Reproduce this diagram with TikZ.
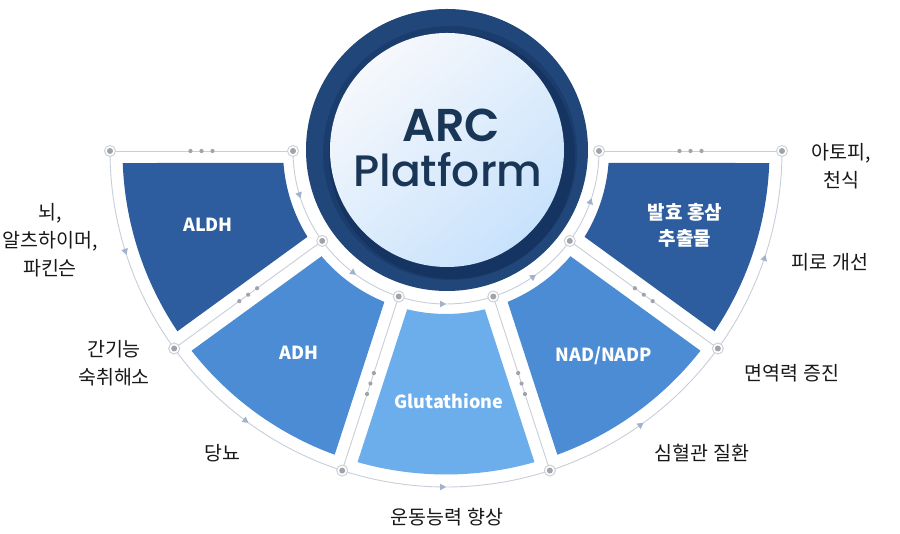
\documentclass[tikz,border=0pt]{standalone}
\usepackage{fontspec}
\setmainfont{Noto Sans CJK KR}
\newfontfamily\pop{Poppins}[UprightFont=* Medium,BoldFont=* SemiBold]
\usetikzlibrary{arrows.meta,decorations.markings,calc}
\definecolor{segdark}{RGB}{45,93,158}
\definecolor{segmid}{RGB}{76,140,212}
\definecolor{seglight}{RGB}{108,174,236}
\definecolor{ringc}{RGB}{33,70,122}
\definecolor{ringdark}{RGB}{18,46,88}
\definecolor{linec}{RGB}{200,207,218}
\definecolor{arrowc}{RGB}{160,178,204}
\definecolor{dotc}{RGB}{160,164,170}
\definecolor{jringc}{RGB}{205,209,215}
\definecolor{titlec}{RGB}{26,54,86}
\definecolor{txtc}{RGB}{24,24,24}
\definecolor{circtop}{RGB}{246,248,252}
\definecolor{circbot}{RGB}{200,226,252}
\begin{document}
\begin{tikzpicture}[x=1pt,y=1pt,
  guide/.style={draw=linec, line width=0.9pt},
  flowarc/.style={guide, postaction={decorate},
    decoration={markings, mark=at position 0.5 with {\arrow[arrowc]{Triangle[length=6pt,width=6.5pt]}}}},
  dotline/.style={guide, postaction={decorate},
    decoration={markings,
      mark=at position 80.5pt with {\fill[dotc] (0,0) circle (2.1);},
      mark=at position 91.5pt with {\fill[dotc] (0,0) circle (2.1);},
      mark=at position 102.5pt with {\fill[dotc] (0,0) circle (2.1);}}},
  jn/.style={circle, fill=white, draw=jringc, line width=1pt, minimum size=11pt, inner sep=0pt,
    path picture={\fill[dotc] (path picture bounding box.center) circle (3);}},
  outtxt/.style={align=center, text=txtc, font=\fontsize{19.5}{28}\selectfont, inner sep=0pt},
  seglab/.style={align=center, text=white, font=\bfseries\fontsize{18}{26}\selectfont, inner sep=0pt},
  seglabkr/.style={seglab, font=\bfseries\fontsize{19}{26}\selectfont}
]
\useasboundingbox (0,0) rectangle (900,534);
\fill[white] (0,0) rectangle (900,534);

\begin{scope}[shift={(446,383)}]
  % segments
  \fill[segdark] (184.22:163) -- (182.13:323.5) arc[start angle=182.13,end angle=213.87,radius=323.5]
     -- (211.78:163) arc[start angle=211.78,end angle=184.22,radius=163] -- cycle;
  \fill[segmid] (220.22:163) -- (218.13:323.5) arc[start angle=218.13,end angle=249.87,radius=323.5]
     -- (247.78:163) arc[start angle=247.78,end angle=220.22,radius=163] -- cycle;
  \fill[seglight] (256.22:163) -- (254.13:323.5) arc[start angle=254.13,end angle=285.87,radius=323.5]
     -- (283.78:163) arc[start angle=283.78,end angle=256.22,radius=163] -- cycle;
  \fill[segmid] (292.22:163) -- (290.13:323.5) arc[start angle=290.13,end angle=321.87,radius=323.5]
     -- (319.78:163) arc[start angle=319.78,end angle=292.22,radius=163] -- cycle;
  \fill[segdark] (328.22:163) -- (326.13:323.5) arc[start angle=326.13,end angle=357.87,radius=323.5]
     -- (355.78:163) arc[start angle=355.78,end angle=328.22,radius=163] -- cycle;

  % junction coordinates
  \foreach \a [count=\k] in {180,216,252,288,324,360} {
    \coordinate (i\k) at (\a:153);
    \coordinate (o\k) at (\a:336);
  }
\end{scope}

% radial guide lines with dots
\foreach \k in {1,...,6} { \draw[dotline] (i\k) -- (o\k); }

% arcs with flow arrows
\draw[flowarc] (o1) arc[start angle=180,end angle=216,radius=336];
\draw[flowarc] (o2) arc[start angle=216,end angle=252,radius=336];
\draw[flowarc] (o3) arc[start angle=252,end angle=288,radius=336];
\draw[flowarc] (o4) arc[start angle=288,end angle=324,radius=336];
\draw[flowarc] (o5) arc[start angle=324,end angle=360,radius=336];
\draw[flowarc] (i1) arc[start angle=180,end angle=216,radius=153];
\draw[flowarc] (i2) arc[start angle=216,end angle=252,radius=153];
\draw[flowarc] (i3) arc[start angle=252,end angle=288,radius=153];
\draw[flowarc] (i4) arc[start angle=288,end angle=324,radius=153];
\draw[flowarc] (i5) arc[start angle=324,end angle=360,radius=153];

% junction markers
\foreach \k in {1,...,6} {
  \node[jn] (ji\k) at (i\k) {};
  \node[jn] (jo\k) at (o\k) {};
}

% central circle
\fill[ringc] (447,384) circle (141);
\fill[ringdark, opacity=0.55] (452,378) circle (123);
\fill[ringdark, opacity=0.35] (450,381) circle (127);
\shade[top color=circtop, bottom color=circbot, shading angle=40] (447,384) circle (117);
\node[anchor=base, text=titlec, font=\pop\bfseries\fontsize{46}{46}\selectfont, inner sep=0pt] (arc) at (451,392) {ARC};
\node[anchor=base, text=titlec, font=\pop\fontsize{44}{44}\selectfont, inner sep=0pt] (plat) at (448,347) {Platform};

% segment labels
\node[seglab] (s1) at (208,309) {ALDH};
\node[seglab] (s2) at (299,181) {ADH};
\node[seglab] (s3) at (449,133) {Glutathione};
\node[seglab] (s4) at (604,178) {NAD/NADP};
\node[seglabkr] (s5) at (685,309) {발효 홍삼\\추출물};

% outer labels
\node[outtxt] (t1) at (50,294) {뇌,\\알츠하이머,\\파킨슨};
\node[outtxt] (t2) at (114,170.5) {간기능\\숙취해소};
\node[outtxt] (t3) at (222,81) {당뇨};
\node[outtxt] (t4) at (447,17) {운동능력 향상};
\node[outtxt] (t5) at (702,81) {심혈관 질환};
\node[outtxt] (t6) at (792,161) {면역력 증진};
\node[outtxt] (t7) at (830,272) {피로 개선};
\node[outtxt] (t8) at (841,368) {아토피,\\천식};
\end{tikzpicture}
\end{document}
